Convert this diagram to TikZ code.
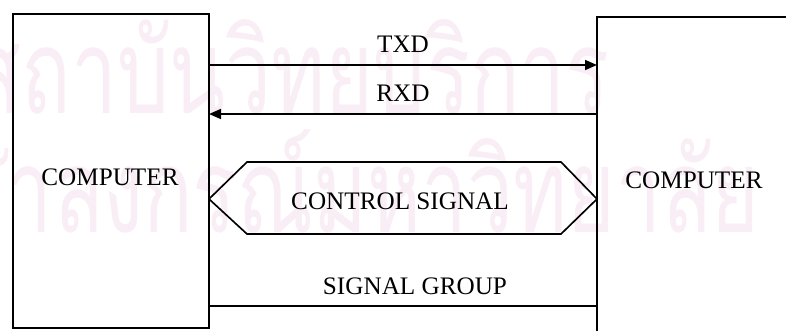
\documentclass[tikz,border=0pt]{standalone}
\usepackage{fontspec}
\setmainfont{Liberation Serif}
\newfontfamily\thaifont[Script=Thai]{Loma}
\usetikzlibrary{arrows.meta}
\definecolor{markpink}{RGB}{249,238,246}
\tikzset{
  unitbox/.style={draw, line width=1.4pt, inner sep=0pt, outer sep=0pt, anchor=north west},
  sig/.style={line width=1.4pt},
  tip/.style={-{Triangle[length=0.36cm,width=0.3cm]}},
  lbl/.style={inner sep=0pt, font=\fontsize{21.5}{24}\selectfont},
  imprint/.style={inner sep=0pt, text=markpink, font=\thaifont\fontsize{100}{100}\selectfont}
}
\begin{document}
\begin{tikzpicture}[x=0.03cm, y=-0.03cm]
  \useasboundingbox (0,0) rectangle (786,330);
  \clip (0,0) rectangle (786,330);
  \fill[white] (0,0) rectangle (786,330);

  % background imprint
  \node[imprint, anchor=base east] (wm1) at (610,113) {\scalebox{0.7}[1]{สถาบันวิทยบริการ}};
  \node[imprint, anchor=base east] (wm2) at (760,232) {\scalebox{0.7}[1]{จุฬาลงกรณ์มหาวิทยาลัย}};

  % the two computers
  \node[unitbox, minimum width=5.88cm, minimum height=9.42cm] (lb) at (13,14) {};
  \node[unitbox, minimum width=9cm, minimum height=12cm] (rb) at (597,17) {};
  \node[lbl] (lname) at (110,177) {COMPUTER};
  \node[lbl] (rname) at (694,180) {COMPUTER};

  % line levels
  \coordinate (ytx) at (0,65);
  \coordinate (yrx) at (0,114);
  \coordinate (ytop) at (0,162);
  \coordinate (ymid) at (0,199);
  \coordinate (ybot) at (0,234);
  \coordinate (ygrp) at (0,306);
  \coordinate (xl) at (247,0);
  \coordinate (xr) at (561,0);

  % serial data lines
  \draw[sig, tip] (lb.east |- ytx) -- (rb.west |- ytx);
  \draw[sig, tip] (rb.west |- yrx) -- (lb.east |- yrx);
  \node[lbl] (txd) at (403,44) {TXD};
  \node[lbl] (rxd) at (403,93) {RXD};

  % control signal bus
  \draw[sig, line join=miter] (lb.east |- ymid) -- (xl |- ytop) -- (xr |- ytop)
    -- (rb.west |- ymid) -- (xr |- ybot) -- (xl |- ybot) -- cycle;
  \node[lbl] (ctl) at (400,201) {CONTROL SIGNAL};

  % signal group line
  \draw[sig] (lb.east |- ygrp) -- (rb.west |- ygrp);
  \node[lbl] (grp) at (415,286) {SIGNAL GROUP};
\end{tikzpicture}
\end{document}
